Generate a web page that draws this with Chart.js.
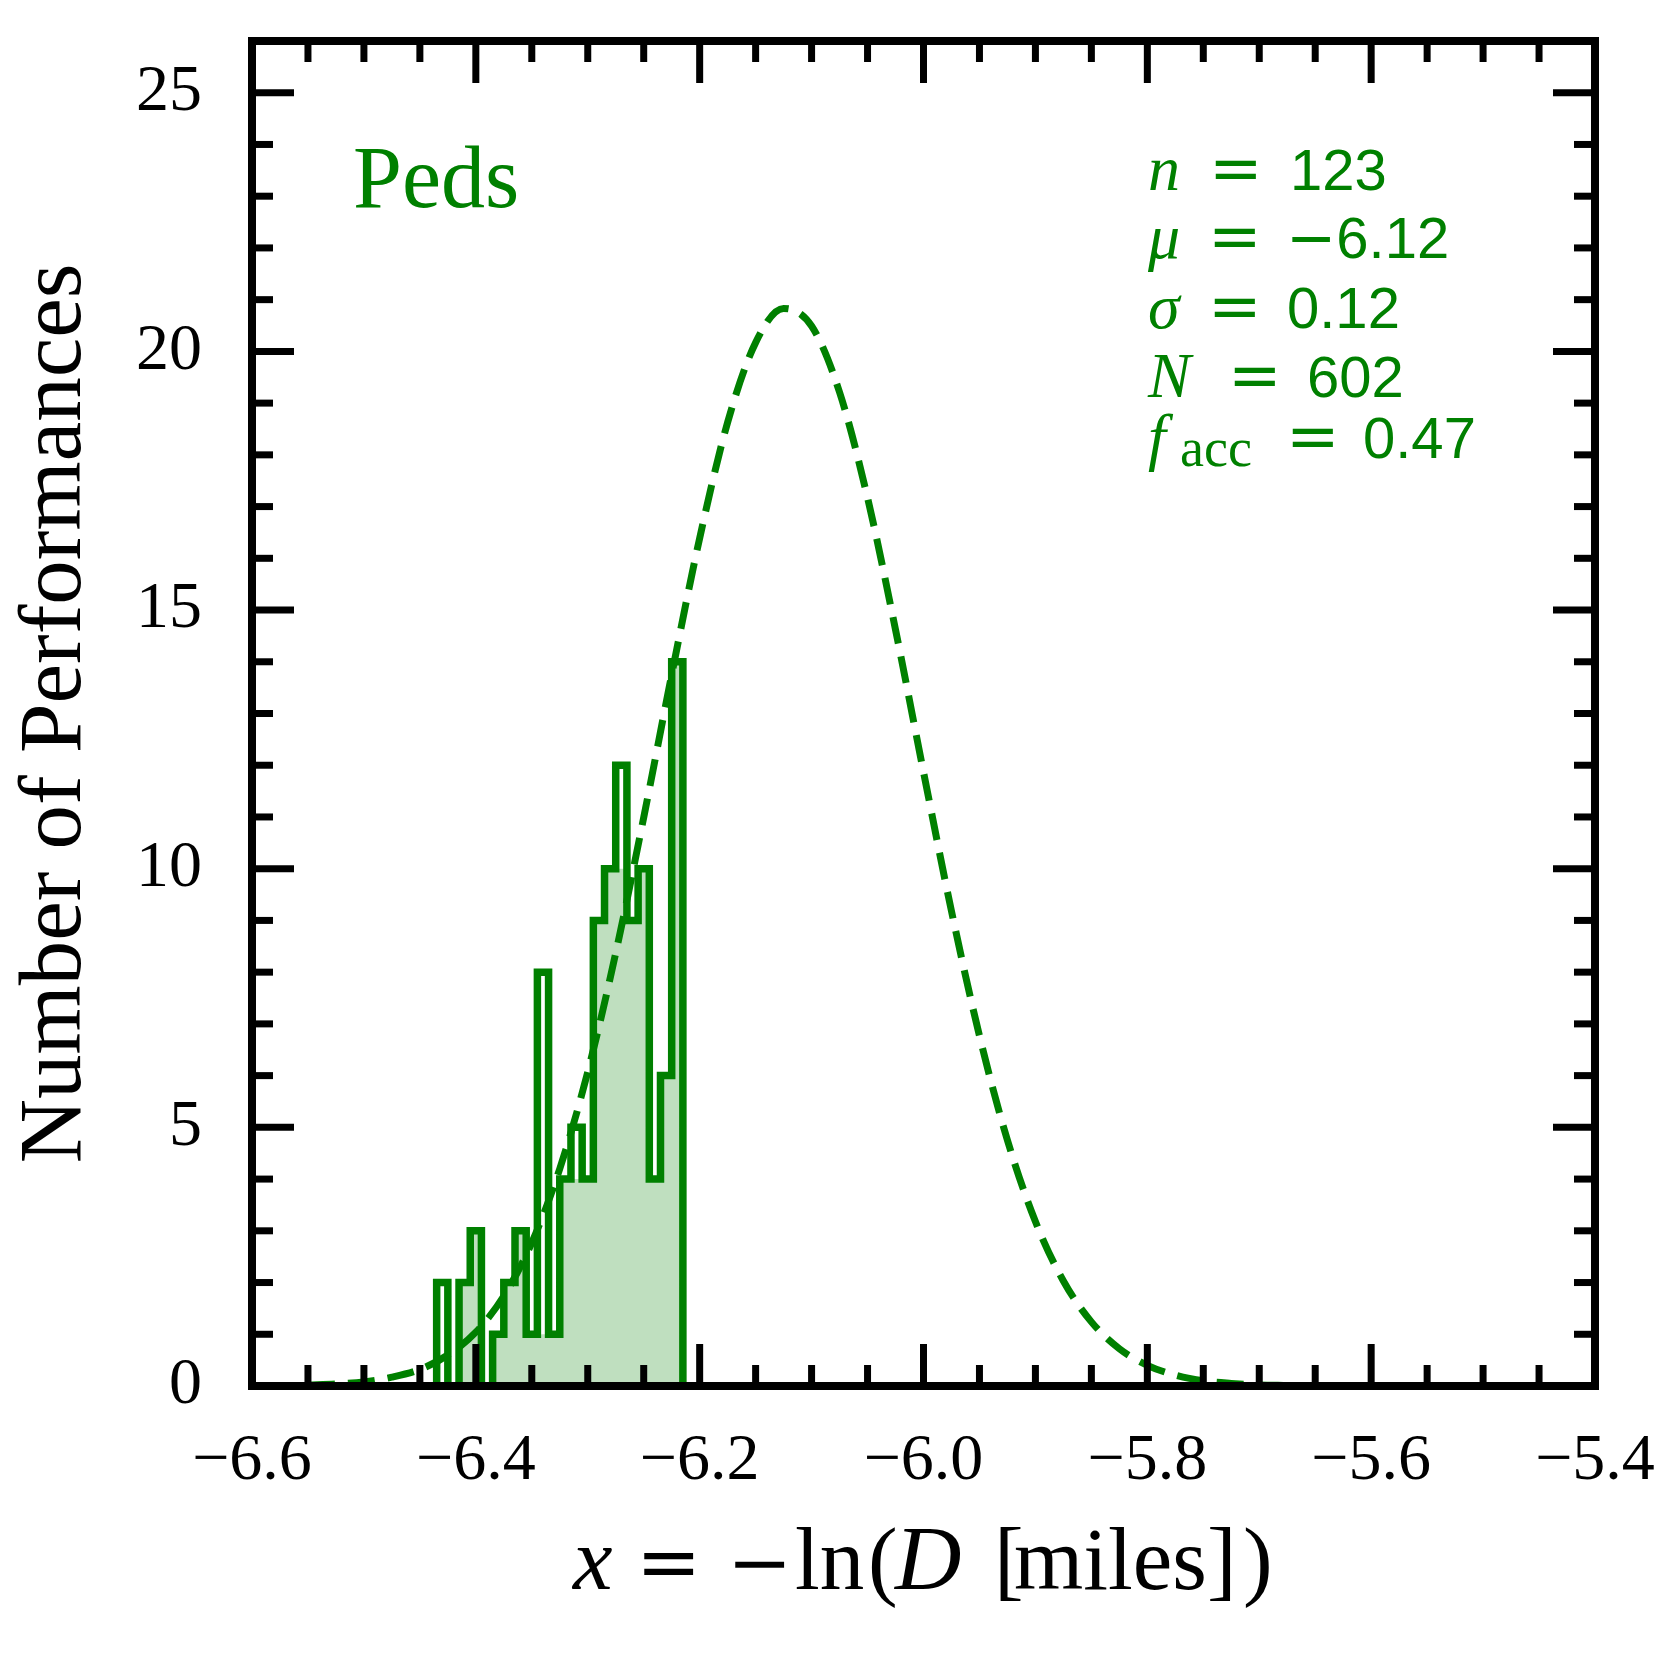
<!DOCTYPE html>
<html><head><meta charset="utf-8">
<script src="https://cdn.jsdelivr.net/npm/chart.js@4.4.1/dist/chart.umd.min.js"></script>
<style>html,body{margin:0;padding:0;background:#fff}canvas{display:block}</style>
</head><body>
<canvas id="c" width="1680" height="1680" style="width:1680px;height:1680px"></canvas>
<script>
// ---- data ----
const binEdges = [-6.435, -6.425, -6.415, -6.405, -6.395, -6.385, -6.375, -6.365, -6.355, -6.345, -6.335, -6.325,
                  -6.315, -6.305, -6.295, -6.285, -6.275, -6.265, -6.255, -6.245, -6.235, -6.225, -6.215];
const outlineCounts = [2, 0, 2, 3, 0, 1, 2, 3, 1, 8, 1, 4, 5, 4, 9, 10, 12, 9, 10, 4, 6, 14];
const fillCounts    = [0, 0, 2, 3, 0, 1, 2, 3, 1, 1, 1, 4, 4, 4, 9, 10, 10, 9, 10, 4, 6, 14];
const curveX = [-6.55, -6.525, -6.5, -6.475, -6.45, -6.425, -6.4, -6.375, -6.35, -6.325, -6.3, -6.275,
                -6.25, -6.225, -6.2, -6.175, -6.15, -6.125, -6.1, -6.075, -6.05, -6.025, -6.0, -5.975,
                -5.95, -5.925, -5.9, -5.875, -5.85, -5.825, -5.8, -5.775, -5.75, -5.725, -5.7, -5.675];
const curveY = [0.02, 0.04, 0.08, 0.17, 0.32, 0.60, 1.04, 1.74, 2.77, 4.20, 6.07, 8.37,
                10.99, 13.75, 16.39, 18.63, 20.17, 20.83, 20.49, 19.21, 17.17, 14.62, 11.87, 9.18,
                6.77, 4.75, 3.18, 2.03, 1.24, 0.72, 0.40, 0.21, 0.10, 0.05, 0.02, 0.01];
const xTickValues = [-6.6, -6.4, -6.2, -6.0, -5.8, -5.6, -5.4];
const yTickValues = [0, 5, 10, 15, 20, 25];
const xRange = [-6.6, -5.4];
const yRange = [0, 26];
const categoryLabel = 'Peds';
const yTitle = 'Number of Performances';
const statLines = [
  {sym: 'n',  sub: '',    num: '123'},
  {sym: 'μ',  sub: '',    num: '\u22126.12'},
  {sym: 'σ',  sub: '',    num: '0.12'},
  {sym: 'N',  sub: '',    num: '602'},
  {sym: 'f',  sub: 'acc', num: '0.47'}
];

const GREEN = '#008000';
const SERIF = "'Liberation Serif', 'Times New Roman', serif";
const SANS = "'Liberation Sans', Arial, sans-serif";

function stepPoints(edges, counts) {
  const pts = [{x: edges[0], y: 0}];
  counts.forEach((c, i) => pts.push({x: edges[i], y: c}));
  pts.push({x: edges[edges.length - 1], y: 0});
  return pts;
}

const framePlugin = {
  id: 'frame',
  afterDatasetsDraw(chart) {
    const {ctx, chartArea: a, scales: {x, y}} = chart;
    ctx.save();
    ctx.strokeStyle = '#000';
    ctx.lineCap = 'butt';
    ctx.lineWidth = 7;
    const major = 42, minor = 21;
    const seg = (x1, y1, x2, y2) => { ctx.beginPath(); ctx.moveTo(x1, y1); ctx.lineTo(x2, y2); ctx.stroke(); };
    for (let i = 0; i <= 24; i++) {
      const v = xRange[0] + i * 0.05;
      const px = x.getPixelForValue(v);
      if (px <= a.left + 2 || px >= a.right - 2) continue;
      const L = (i % 4 === 0) ? major : minor;
      seg(px, a.bottom, px, a.bottom - L);
      seg(px, a.top, px, a.top + L);
    }
    for (let v = yRange[0] + 1; v < yRange[1]; v++) {
      const py = y.getPixelForValue(v);
      const L = (v % 5 === 0) ? major : minor;
      seg(a.left, py, a.left + L, py);
      seg(a.right, py, a.right - L, py);
    }
    ctx.lineWidth = 8;
    ctx.lineJoin = 'miter';
    ctx.strokeRect(a.left, a.top, a.right - a.left, a.bottom - a.top);
    ctx.restore();
  }
};

const textPlugin = {
  id: 'texts',
  afterDraw(chart) {
    const {ctx} = chart;
    ctx.save();
    ctx.textBaseline = 'alphabetic';
    ctx.textAlign = 'left';
    // category label
    ctx.fillStyle = GREEN;
    ctx.font = `88px ${SERIF}`;
    ctx.fillText(categoryLabel, 353, 207);
    // statistics block
    const baselines = [190, 258, 328, 397, 458];
    const eqX = [1213, 1212, 1212, 1232, 1290];
    const numX = [1290, 1290, 1287, 1307, 1363];
    statLines.forEach((s, i) => {
      ctx.font = `italic 64px ${SERIF}`;
      ctx.fillText(s.sym, 1148, baselines[i]);
      if (s.sub) {
        ctx.font = `54px ${SERIF}`;
        ctx.fillText(s.sub, 1180, baselines[i] + 8);
      }
      ctx.font = `64px 'DejaVu Sans', sans-serif`;
      ctx.fillText('=', eqX[i] - 4, baselines[i]);
      let nx = numX[i];
      let txt = s.num;
      if (txt.startsWith('\u2212')) {
        ctx.font = `60px 'DejaVu Sans', sans-serif`;
        ctx.fillText('\u2212', nx - 4, baselines[i]);
        nx += ctx.measureText('\u2212').width - 4;
        txt = txt.slice(1);
      }
      ctx.font = `58px ${SANS}`;
      ctx.fillText(txt, nx, baselines[i]);
    });
    // x axis title  x = −ln (D [miles])
    ctx.fillStyle = '#000';
    const pieces = [
      ['x', 'italic 89px ' + SERIF, 573], ['=', "78px 'DejaVu Serif', serif", 636], ['\u2212', "78px 'DejaVu Serif', serif", 727],
      ['ln', '89px ' + SERIF, 795],
      ['(', '89px ' + SERIF, 868], ['D', 'italic 92px ' + SERIF, 895], ['[', '89px ' + SERIF, 994], ['miles', '89px ' + SERIF, 1014],
      [']', '89px ' + SERIF, 1207], [')', '89px ' + SERIF, 1243]
    ];
    pieces.forEach(([t, f, px]) => {
      ctx.font = f;
      ctx.fillText(t, px, 1589);
    });
    ctx.restore();
  }
};

function zeroPad(s) { s.paddingLeft = 0; s.paddingRight = 0; s.paddingTop = 0; s.paddingBottom = 0; }

const chart = new Chart(document.getElementById('c'), {
  type: 'line',
  data: {
    datasets: [
      {
        label: 'fill',
        data: stepPoints(binEdges, fillCounts),
        stepped: true,
        borderWidth: 0,
        borderColor: 'rgba(0,0,0,0)',
        backgroundColor: 'rgba(0,128,0,0.25)',
        fill: 'origin',
        pointRadius: 0,
        order: 3
      },
      {
        label: 'outline',
        data: stepPoints(binEdges, outlineCounts),
        stepped: true,
        borderWidth: 7.5,
        borderColor: GREEN,
        borderJoinStyle: 'miter',
        fill: false,
        pointRadius: 0,
        order: 2
      },
      {
        label: 'gaussian',
        data: curveX.map((v, i) => ({x: v, y: curveY[i]})),
        borderWidth: 7,
        borderColor: GREEN,
        borderDash: [27, 13],
        borderCapStyle: 'butt',
        cubicInterpolationMode: 'monotone',
        fill: false,
        pointRadius: 0,
        order: 1
      }
    ]
  },
  options: {
    responsive: false,
    devicePixelRatio: 1,
    animation: false,
    events: [],
    layout: {padding: {left: 0, right: 85, top: 41, bottom: 0}},
    plugins: {legend: {display: false}, tooltip: {enabled: false}},
    scales: {
      x: {
        type: 'linear',
        min: xRange[0], max: xRange[1],
        grid: {display: false, drawTicks: false},
        border: {display: false},
        afterBuildTicks: s => { s.ticks = xTickValues.map(v => ({value: v})); },
        afterFit: s => { s.height = 294; zeroPad(s); },
        ticks: {
          autoSkip: false, maxRotation: 0, minRotation: 0,
          padding: 36,
          color: '#000',
          font: {family: SERIF, size: 66},
          callback: v => (v < 0 ? '\u2212' : '') + Math.abs(v).toFixed(1)
        }
      },
      y: {
        type: 'linear',
        min: yRange[0], max: yRange[1],
        grid: {display: false, drawTicks: false},
        border: {display: false},
        afterBuildTicks: s => { s.ticks = yTickValues.map(v => ({value: v})); },
        afterFit: s => { s.width = 252; zeroPad(s); },
        title: {
          display: true,
          text: yTitle,
          color: '#000',
          font: {family: SERIF, size: 89},
          padding: {top: 3, bottom: 0}
        },
        ticks: {
          padding: 50,
          color: '#000',
          font: {family: SERIF, size: 66},
          callback: v => String(v)
        }
      }
    }
  },
  plugins: [framePlugin, textPlugin]
});
</script>
</body></html>
